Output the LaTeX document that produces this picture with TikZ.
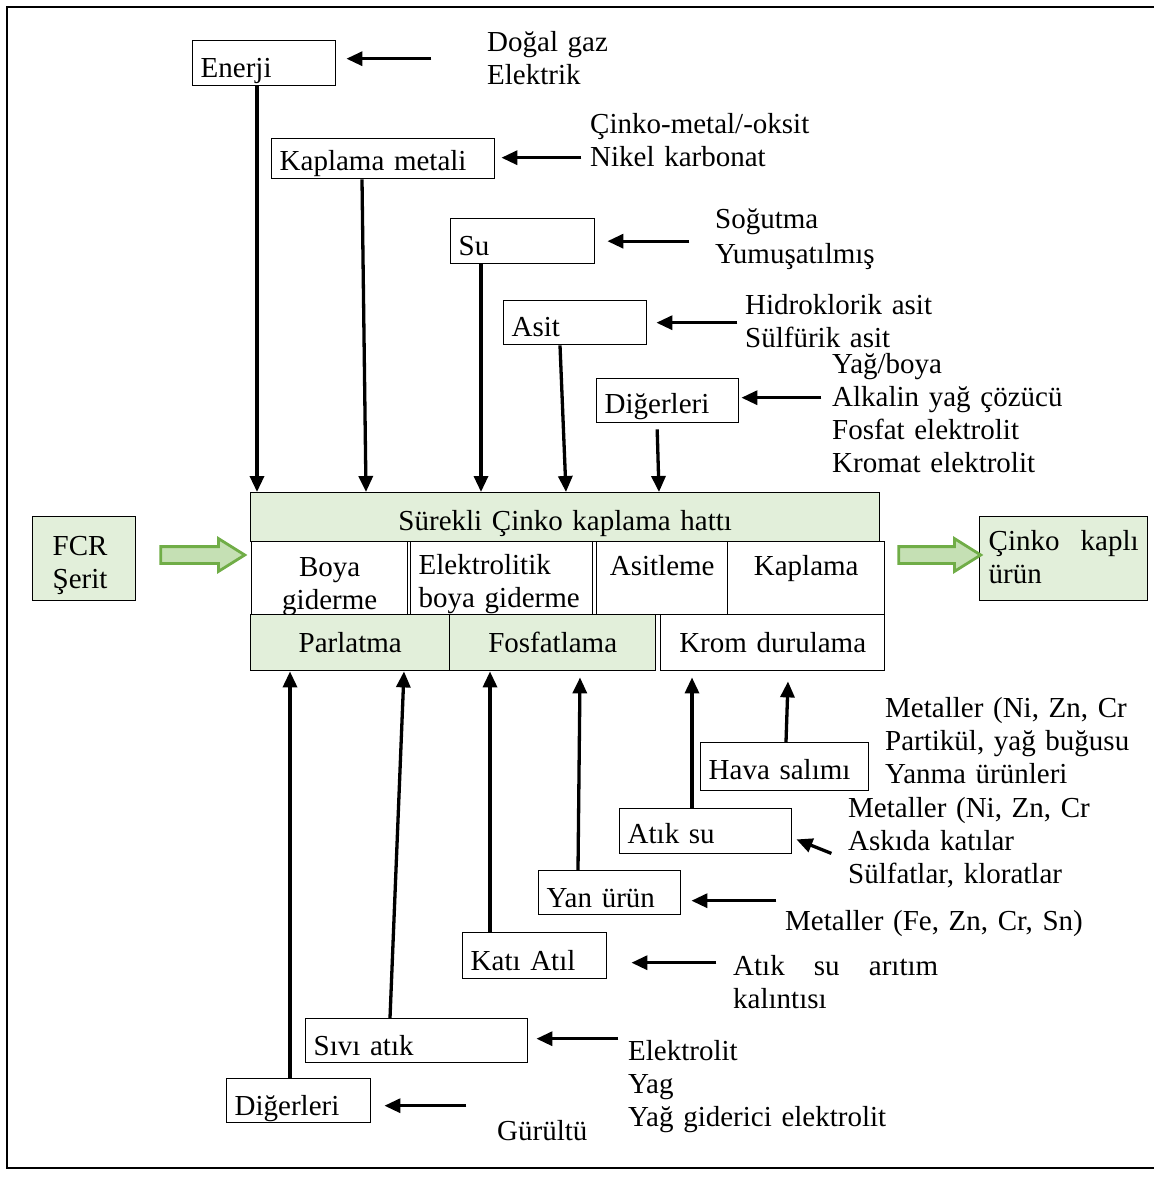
\documentclass[tikz,border=0pt]{standalone}
\usepackage{fontspec}
\setmainfont{Liberation Serif}
\usetikzlibrary{arrows.meta,shapes.arrows}
\definecolor{palegreen}{HTML}{E2EFDA}
\definecolor{arrowfill}{HTML}{C5E0B4}
\definecolor{arrowedge}{HTML}{70AD47}

\begin{document}
\begin{tikzpicture}[x=1pt,y=-1pt]
	\tikzset{every node/.style = {font=\fontsize{29}{33}\selectfont}}
	\tikzset{box/.style = {draw,line width=1.4pt,fill=white,anchor=north west,inner xsep=8pt,inner ysep=0pt,align=left}}
	\tikzset{stage/.style = {box,align=center}}
	\tikzset{lbl/.style = {anchor=base west,inner sep=0pt,align=left,text width=330pt}}
	\tikzset{flow/.style = {line width=3.3pt,-{Triangle[length=16pt,width=14pt]}}}
	\tikzset{band/.style = {single arrow,draw=arrowedge,fill=arrowfill,line width=2.8pt,single arrow head extend=8pt,single arrow tip angle=64,inner sep=7pt,minimum height=84pt}}
	\useasboundingbox (0,0) rectangle (1153,1177);
	\draw[line width=1.4pt] (1170,7) -- (7,7) -- (7,1168) -- (1170,1168);
	% inputs
	\node[box,text width=127pt,text height=37pt,text depth=8pt] (enerji) at (192,40) {Enerji};
	\node[box,text width=207pt,text height=32pt,text depth=8pt] (kaplama) at (271,138) {Kaplama metali};
	\node[box,text width=128pt,text height=37pt,text depth=8pt] (su) at (450,218) {Su};
	\node[box,text width=127pt,text height=36pt,text depth=8pt] (asit) at (503,300) {Asit};
	\node[box,text width=126pt,text height=35pt,text depth=9pt] (diger1) at (596,378) {Diğerleri};
	\node[lbl] (gaz) at (487,52) {Doğal gaz\\Elektrik};
	\node[lbl] (metal) at (590,134) {Çinko-metal/-oksit\\Nikel karbonat};
	\node[lbl] (sogutma) at (715,228) {Soğutma\\[2pt]Yumuşatılmış};
	\node[lbl] (acid) at (745,314) {Hidroklorik asit\\Sülfürik asit};
	\node[lbl] (kimyasal) at (832,373) {Yağ/boya\\Alkalin yağ çözücü\\Fosfat elektrolit\\Kromat elektrolit};
	% line
	\node[stage,fill=palegreen,text width=613pt,text height=38pt,text depth=11pt] (hatti) at (250,492) {Sürekli Çinko kaplama hattı};
	\node[stage,text width=140pt,text height=35pt,text depth=38pt] (boya) at (251,541) {Boya\\giderme};
	\node[box,text width=166pt,text height=33pt,text depth=40pt] (elektro) at (410,541) {Elektrolitik\\boya giderme};
	\node[stage,text width=115pt,text height=34pt,text depth=39pt] (asitleme) at (596,541) {Asitleme};
	\node[stage,text width=141pt,text height=34pt,text depth=39pt] (kaplm) at (727,541) {Kaplama};
	\node[stage,fill=palegreen,text width=183pt,text height=38pt,text depth=18pt] (parlatma) at (250,614) {Parlatma};
	\node[stage,fill=palegreen,text width=190pt,text height=38pt,text depth=18pt] (fosfat) at (449,614) {Fosfatlama};
	\node[stage,text width=208pt,text height=38pt,text depth=18pt] (krom) at (660,614) {Krom durulama};
	\node[box,fill=palegreen,inner xsep=20pt,text width=63pt,text height=39pt,text depth=45pt] (fcr) at (32,516) {FCR\\Şerit};
	\node[box,fill=palegreen,inner xsep=9pt,text width=150pt,text height=34pt,text depth=50pt] (urun) at (979,516) {Çinko\hfill kaplı\\ürün};
	\node[band] (giris) at (196,555) {};
	\node[band,minimum height=82pt] (cikis) at (933,555) {};
	% outputs
	\node[box,text width=152pt,text height=37pt,text depth=11pt] (hava) at (700,742) {Hava salımı};
	\node[box,text width=156pt,text height=35pt,text depth=10pt] (atiksu) at (619,808) {Atık su};
	\node[box,text width=126pt,text height=37pt,text depth=7pt] (yan) at (538,870) {Yan ürün};
	\node[box,text width=128pt,text height=38pt,text depth=8pt] (kati) at (462,932) {Katı Atıl};
	\node[box,text width=206pt,text height=37pt,text depth=7pt] (sivi) at (305,1018) {Sıvı atık};
	\node[box,text width=128pt,text height=37pt,text depth=7pt] (diger2) at (226,1078) {Diğerleri};
	\node[lbl] (emisyon) at (885,717) {Metaller (Ni, Zn, Cr\\Partikül, yağ buğusu\\Yanma ürünleri};
	\node[lbl] (atiklbl) at (848,817) {Metaller (Ni, Zn, Cr\\Askıda katılar\\Sülfatlar, kloratlar};
	\node[lbl] (yanlbl) at (785,930) {Metaller (Fe, Zn, Cr, Sn)};
	\node[lbl,text width=205pt] (camur) at (733,975) {Atık\hfill su\hfill arıtım\\kalıntısı};
	\node[lbl] (sivilbl) at (628,1060) {Elektrolit\\Yag\\Yağ giderici elektrolit};
	\node[lbl] (gurultu) at (497,1140) {Gürültü};
	%feeds into the line
	\draw[flow] ([xshift=65pt]enerji.south west) -- ([xshift=7pt]hatti.north west);
	\draw[flow] ([xshift=91pt]kaplama.south west) -- ([xshift=116pt]hatti.north west);
	\draw[flow] ([xshift=31pt]su.south west) -- ([xshift=231pt]hatti.north west);
	\draw[flow] ([xshift=57pt]asit.south west) -- ([xshift=316pt]hatti.north west);
	\draw[flow,shorten <=6pt] ([xshift=61pt]diger1.south west) -- ([xshift=409pt]hatti.north west);
	\draw[flow] ([xshift=95pt,yshift=4.5pt]enerji.east) -- ([xshift=10pt,yshift=4.5pt]enerji.east);
	\draw[flow] ([xshift=86pt,yshift=1pt]kaplama.east) -- ([xshift=6pt,yshift=1pt]kaplama.east);
	\draw[flow] ([xshift=94pt]su.east) -- ([xshift=12pt]su.east);
	\draw[flow] ([xshift=90pt]asit.east) -- ([xshift=9pt]asit.east);
	\draw[flow] ([xshift=82pt,yshift=3pt]diger1.east) -- ([xshift=2pt,yshift=3pt]diger1.east);
	%releases from the line
	\draw[flow] ([xshift=64pt]diger2.north west) -- ([xshift=40pt]parlatma.south west);
	\draw[flow] ([xshift=85pt]sivi.north west) -- ([xshift=154pt]parlatma.south west);
	\draw[flow] ([xshift=28pt]kati.north west) -- ([xshift=41pt]fosfat.south west);
	\draw[flow] ([xshift=40pt]yan.north west) -- ([xshift=131pt,yshift=-6pt]fosfat.south west);
	\draw[flow] ([xshift=73pt]atiksu.north west) -- ([xshift=32pt,yshift=-6pt]krom.south west);
	\draw[flow] ([xshift=86pt]hava.north west) -- ([xshift=128pt,yshift=-10pt]krom.south west);
	\draw[flow] ([xshift=39pt,yshift=1pt]atiksu.south east) -- ([xshift=4pt,yshift=15pt]atiksu.south east);
	\draw[flow] ([xshift=95pt,yshift=-8pt]yan.east) -- ([xshift=10pt,yshift=-8pt]yan.east);
	\draw[flow] ([xshift=109pt,yshift=-7pt]kati.east) -- ([xshift=24pt,yshift=-7pt]kati.east);
	\draw[flow] ([xshift=90pt,yshift=2pt]sivi.east) -- ([xshift=8pt,yshift=2pt]sivi.east);
	\draw[flow] ([xshift=95pt,yshift=-5pt]diger2.east) -- ([xshift=13pt,yshift=-5pt]diger2.east);
\end{tikzpicture}
\end{document}
